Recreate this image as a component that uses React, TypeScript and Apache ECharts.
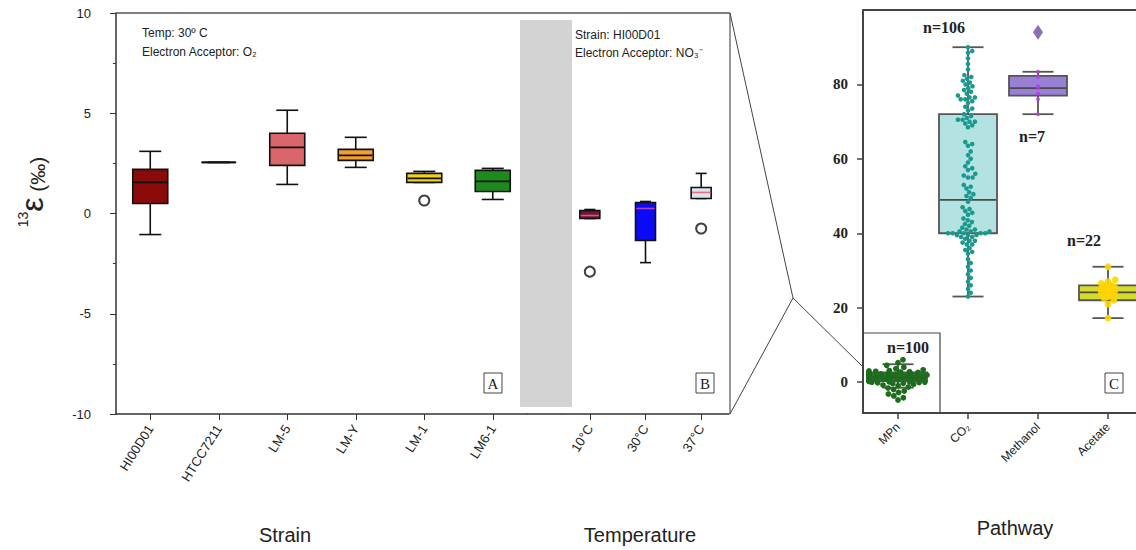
import React, { useEffect, useRef } from 'react';
import * as echarts from 'echarts';

// ---------- Panel A: strains ----------
const strainCats = ['HI00D01', 'HTCC7211', 'LM-5', 'LM-Y', 'LM-1', 'LM6-1'];
const strainLow = [-1.05, 2.55, 1.45, 2.3, 1.55, 0.7];
const strainQ1 = [0.5, 2.55, 2.4, 2.65, 1.55, 1.1];
const strainMed = [1.55, 2.55, 3.3, 2.9, 1.75, 1.6];
const strainQ3 = [2.2, 2.55, 4.0, 3.2, 2.0, 2.15];
const strainHigh = [3.1, 2.55, 5.15, 3.8, 2.1, 2.25];
const strainFill = ['#8B0A0A', '#8B0A0A', '#D9666B', '#F4A030', '#F2D21B', '#1E8A1E'];
const strainMedColor = ['#111', '#111', '#111', '#111', '#111', '#111'];
const strainOutliers = [[4, 0.65]];

// ---------- Panel B: temperature ----------
const tempCats = ['10°C', '30°C', '37°C'];
const tempLow = [-0.25, -2.45, 0.75];
const tempQ1 = [-0.25, -1.35, 0.75];
const tempMed = [-0.1, 0.25, 1.05];
const tempQ3 = [0.15, 0.55, 1.3];
const tempHigh = [0.2, 0.6, 2.0];
const tempFill = ['#6B1538', '#0A0AF5', '#DCE4EE'];
const tempMedColor = ['#E0508A', '#B040C0', '#E87080'];
const tempOutliers = [[0, -2.9], [2, -0.75]];

// ---------- Panel C: pathway ----------
const pathCats = ['MPn', 'CO₂', 'Methanol', 'Acetate'];
const pathLow = [-1.5, 23, 72, 17.2];
const pathQ1 = [0.3, 40, 77, 22];
const pathMed = [1.3, 49, 79, 24.1];
const pathQ3 = [2.6, 72, 82.3, 26];
const pathHigh = [4.8, 90, 83.4, 31];
const pathFill = ['#1F7A1F', '#B2E2E2', '#9A7FD6', '#D6DA2A'];
const pathMedColor = ['#4a4a4a', '#4a4a4a', '#4a4a4a', '#4a4a4a'];
const pathN = ['n=100', 'n=106', 'n=7', 'n=22'];

const mpnPoints = [
  6.0, 5.2, 4.5, 4.0, 3.6, 3.3, 3.1, 3.0, 2.9, 2.8,
  2.7, 2.6, 2.6, 2.5, 2.5, 2.4, 2.4, 2.3, 2.3, 2.2,
  2.2, 2.2, 2.1, 2.1, 2.0, 2.0, 2.0, 1.9, 1.9, 1.9,
  1.8, 1.8, 1.8, 1.7, 1.7, 1.7, 1.6, 1.6, 1.6, 1.5,
  1.5, 1.5, 1.5, 1.4, 1.4, 1.4, 1.3, 1.3, 1.3, 1.3,
  1.2, 1.2, 1.2, 1.1, 1.1, 1.1, 1.0, 1.0, 1.0, 1.0,
  0.9, 0.9, 0.9, 0.8, 0.8, 0.8, 0.7, 0.7, 0.7, 0.6,
  0.6, 0.5, 0.5, 0.5, 0.4, 0.4, 0.3, 0.3, 0.2, 0.2,
  0.1, 0.1, 0.0, 0.0, -0.1, -0.2, -0.3, -0.4, -0.6, -0.8,
  -1.0, -1.3, -1.6, -2.0, -2.4, -2.8, -3.2, -3.7, -4.2, -4.8,
];
const co2Points = [
  90, 89, 88.5, 87, 85.5, 84, 82.5, 82, 81.5, 81,
  80.5, 80, 79.5, 79, 78.5, 78, 77.5, 77, 76.5, 76.5,
  76, 76, 75.5, 75, 74, 73.5, 73, 72, 71.5, 71,
  70.5, 70.5, 70, 70, 69.5, 69, 68.5, 64.5, 64, 63.5,
  62, 61, 60, 59, 58, 57.5, 57, 56, 55.5, 55,
  55, 53, 52.5, 52, 51, 50.5, 50, 49.5, 48.5, 47,
  46.5, 46, 45.5, 45, 44, 43.5, 43, 42.5, 42, 41.5,
  41, 41, 40.5, 40.5, 40.5, 40, 40, 40, 40, 40,
  39.5, 39.5, 39.5, 39, 39, 38.5, 38, 38, 37.5, 37,
  37, 36, 35.5, 35, 34.5, 33, 32, 31, 30, 29,
  28, 27, 26, 25, 24, 23,
];
const methanolPoints = [83.4, 82, 79.5, 79, 77.5, 76, 72];
const methanolOutliers = [94];
const acetatePoints = [31, 27.5, 27, 26.5, 26, 26, 25.5, 25.5, 25, 25, 24.5, 24.5, 24, 24, 23.5, 23.5, 23, 23, 22.5, 22, 21, 17.2];

const SANS = 'Liberation Sans, Arial, sans-serif';
const SERIF = 'Liberation Serif, Times New Roman, serif';

function beeswarm(ys: number[], r: number, maxW: number): number[] {
  const d = 2 * r;
  const order = ys.map((_, i) => i).sort((a, b) => ys[b] - ys[a]);
  const placed: { x: number; y: number }[] = [];
  const off = new Array(ys.length).fill(0);
  let fb = 0;
  for (const i of order) {
    const y = ys[i];
    const near = placed.filter((p) => Math.abs(p.y - y) < d);
    const cands = [0];
    for (const p of near) {
      const dx = Math.sqrt(Math.max(0, d * d - (p.y - y) * (p.y - y)));
      cands.push(p.x + dx + 0.01, p.x - dx - 0.01);
    }
    cands.sort((a, b) => Math.abs(a) - Math.abs(b));
    let chosen: number | null = null;
    for (const c of cands) {
      if (Math.abs(c) > maxW) continue;
      if (near.every((p) => (p.x - c) * (p.x - c) + (p.y - y) * (p.y - y) >= d * d - 0.05)) {
        chosen = c;
        break;
      }
    }
    if (chosen === null) {
      fb++;
      const steps = Math.max(1, Math.floor(maxW / r));
      const k = ((fb * 7) % (2 * steps + 1)) - steps;
      chosen = k * r;
    }
    off[i] = chosen;
    placed.push({ x: chosen, y });
  }
  return off;
}

function boxRender(fills: string[], meds: string[], stroke: string, boxW: number, capW: number, lw: number) {
  return (params: any, api: any) => {
    const x = api.value(0);
    const lo = api.coord([x, api.value(1)]);
    const q1 = api.coord([x, api.value(2)]);
    const md = api.coord([x, api.value(3)]);
    const q3 = api.coord([x, api.value(4)]);
    const hi = api.coord([x, api.value(5)]);
    const cx = lo[0];
    const i = params.dataIndex;
    const ls = { stroke, lineWidth: lw };
    return {
      type: 'group',
      children: [
        { type: 'line', shape: { x1: cx, y1: hi[1], x2: cx, y2: q3[1] }, style: ls },
        { type: 'line', shape: { x1: cx, y1: q1[1], x2: cx, y2: lo[1] }, style: ls },
        { type: 'line', shape: { x1: cx - capW / 2, y1: hi[1], x2: cx + capW / 2, y2: hi[1] }, style: ls },
        { type: 'line', shape: { x1: cx - capW / 2, y1: lo[1], x2: cx + capW / 2, y2: lo[1] }, style: ls },
        {
          type: 'rect',
          shape: { x: cx - boxW / 2, y: q3[1], width: boxW, height: q1[1] - q3[1] },
          style: { fill: fills[i], stroke, lineWidth: lw },
        },
        {
          type: 'line',
          shape: { x1: cx - boxW / 2 + lw / 2, y1: md[1], x2: cx + boxW / 2 - lw / 2, y2: md[1] },
          style: { stroke: meds[i], lineWidth: lw },
        },
      ],
    };
  };
}

function swarmRender(values: number[], cat: number, r: number, maxW: number, color: string, opacity = 1) {
  return (params: any, api: any) => {
    const ctx = params.context;
    if (!ctx.off) {
      const ys = values.map((v) => api.coord([cat, v])[1]);
      ctx.off = beeswarm(ys, r, maxW);
    }
    const c = api.coord([api.value(0), api.value(1)]);
    return {
      type: 'circle',
      shape: { cx: c[0] + ctx.off[params.dataIndex], cy: c[1], r },
      style: { fill: color, opacity },
    };
  };
}

function boxData(lo: number[], q1: number[], md: number[], q3: number[], hi: number[]) {
  return lo.map((_, i) => [i, lo[i], q1[i], md[i], q3[i], hi[i]]);
}

function txt(text: string, x: number, y: number, font: string, align = 'left', fill = '#222', extra: any = {}) {
  return { type: 'text', x, y, z: 10, style: { text, font, fill, align, verticalAlign: 'middle', ...extra } };
}

function line(x1: number, y1: number, x2: number, y2: number, stroke = '#444', lineWidth = 1) {
  return { type: 'line', z: 10, shape: { x1, y1, x2, y2 }, style: { stroke, lineWidth } };
}

function boxedLetter(t: string, cx: number, cy: number) {
  return [
    { type: 'rect', z: 10, shape: { x: cx - 9, y: cy - 10, width: 18, height: 20 }, style: { fill: '#fff', stroke: '#444', lineWidth: 1 } },
    txt(t, cx, cy + 1, `15px ${SERIF}`, 'center', '#222'),
  ];
}

const leftAxisLine = { show: true, onZero: false, lineStyle: { color: '#333', width: 1.5 } };

export default function App() {
  const ref = useRef<HTMLDivElement>(null);
  useEffect(() => {
    document.body.style.margin = '0';
    const chart = echarts.init(ref.current!, null, { renderer: 'svg' });
    const option: any = {
      animation: false,
      backgroundColor: '#fff',
      grid: [
        { left: 116, top: 13, width: 411, height: 401, outerBoundsMode: 'none' },
        { left: 562, top: 13, width: 167, height: 401, outerBoundsMode: 'none' },
        { left: 863, top: 10, width: 280, height: 403, outerBoundsMode: 'none' },
      ],
      xAxis: [
        {
          type: 'category', gridIndex: 0, data: strainCats,
          axisLine: leftAxisLine,
          axisTick: { show: true, alignWithLabel: true, length: 6, lineStyle: { color: '#333' } },
          axisLabel: { rotate: 58, fontSize: 13, fontFamily: SANS, color: '#222', margin: 12, interval: 0 },
          splitLine: { show: false },
        },
        {
          type: 'category', gridIndex: 1, data: tempCats,
          axisLine: leftAxisLine,
          axisTick: { show: true, alignWithLabel: true, length: 6, lineStyle: { color: '#333' } },
          axisLabel: { rotate: 58, fontSize: 13, fontFamily: SANS, color: '#222', margin: 12, interval: 0 },
          splitLine: { show: false },
        },
        {
          type: 'category', gridIndex: 2, data: pathCats,
          axisLine: { show: true, onZero: false, lineStyle: { color: '#444', width: 2 } },
          axisTick: { show: true, alignWithLabel: true, length: 6, lineStyle: { color: '#444', width: 1.5 } },
          axisLabel: { rotate: 45, fontSize: 12, fontFamily: SANS, color: '#222', margin: 12, interval: 0 },
          splitLine: { show: false },
        },
      ],
      yAxis: [
        {
          type: 'value', gridIndex: 0, min: -10, max: 10, interval: 5,
          axisLine: leftAxisLine,
          axisTick: { show: true, length: 6, lineStyle: { color: '#333' } },
          minorTick: { show: true, splitNumber: 2, length: 3, lineStyle: { color: '#333' } },
          axisLabel: { fontSize: 13, fontFamily: SANS, color: '#222', margin: 25 },
          splitLine: { show: false },
          minorSplitLine: { show: false },
        },
        {
          type: 'value', gridIndex: 1, min: -10, max: 10, interval: 5, show: false,
          splitLine: { show: false },
        },
        {
          type: 'value', gridIndex: 2, min: -8.3, max: 100,
          axisLine: { show: true, onZero: false, lineStyle: { color: '#444', width: 2 } },
          axisTick: { show: true, length: 6, customValues: [0, 20, 40, 60, 80], lineStyle: { color: '#444', width: 1.5 } },
          axisLabel: {
            fontSize: 15, fontFamily: SERIF, fontWeight: 'bold', color: '#222', margin: 15,
            customValues: [0, 20, 40, 60, 80],
          },
          splitLine: { show: false },
        },
      ],
      series: [
        {
          type: 'custom', xAxisIndex: 0, yAxisIndex: 0, z: 3,
          data: boxData(strainLow, strainQ1, strainMed, strainQ3, strainHigh),
          encode: { x: 0, y: [1, 2, 3, 4, 5] },
          renderItem: boxRender(strainFill, strainMedColor, '#111', 35, 22, 1.6),
        },
        {
          type: 'scatter', xAxisIndex: 0, yAxisIndex: 0, z: 4,
          data: strainOutliers, symbol: 'circle', symbolSize: 10,
          itemStyle: { color: '#fff', borderColor: '#111', borderWidth: 2 },
        },
        {
          type: 'custom', xAxisIndex: 1, yAxisIndex: 1, z: 3,
          data: boxData(tempLow, tempQ1, tempMed, tempQ3, tempHigh),
          encode: { x: 0, y: [1, 2, 3, 4, 5] },
          renderItem: boxRender(tempFill, tempMedColor, '#111', 20, 11, 1.6),
        },
        {
          type: 'scatter', xAxisIndex: 1, yAxisIndex: 1, z: 4,
          data: tempOutliers, symbol: 'circle', symbolSize: 10,
          itemStyle: { color: '#fff', borderColor: '#111', borderWidth: 2 },
        },
        {
          type: 'custom', xAxisIndex: 2, yAxisIndex: 2, z: 3,
          data: boxData(pathLow, pathQ1, pathMed, pathQ3, pathHigh),
          encode: { x: 0, y: [1, 2, 3, 4, 5] },
          renderItem: boxRender(pathFill, pathMedColor, '#555', 58, 31, 1.8),
        },
        {
          type: 'custom', xAxisIndex: 2, yAxisIndex: 2, z: 5,
          data: mpnPoints.map((v) => [0, v]),
          encode: { x: 0, y: 1 },
          renderItem: swarmRender(mpnPoints, 0, 2.9, 29, '#1C6E1C'),
        },
        {
          type: 'custom', xAxisIndex: 2, yAxisIndex: 2, z: 5,
          data: co2Points.map((v) => [1, v]),
          encode: { x: 0, y: 1 },
          renderItem: swarmRender(co2Points, 1, 2.3, 28, '#1A998C'),
        },
        {
          type: 'custom', xAxisIndex: 2, yAxisIndex: 2, z: 5,
          data: methanolPoints.map((v) => [2, v]),
          encode: { x: 0, y: 1 },
          renderItem: swarmRender(methanolPoints, 2, 2, 0, '#B43CE6', 0.8),
        },
        {
          type: 'scatter', xAxisIndex: 2, yAxisIndex: 2, z: 5,
          data: methanolOutliers.map((v) => [2, v]), symbol: 'diamond', symbolSize: [10, 15],
          itemStyle: { color: '#6E4B9E' },
        },
        {
          type: 'custom', xAxisIndex: 2, yAxisIndex: 2, z: 5,
          data: acetatePoints.map((v) => [3, v]),
          encode: { x: 0, y: 1 },
          renderItem: swarmRender(acetatePoints, 3, 3.4, 8, '#FFD400', 0.9),
        },
      ],
      graphic: [
        { type: 'rect', z: -1, shape: { x: 520, y: 20, width: 52, height: 387 }, style: { fill: '#D3D3D3' } },
        // frames
        line(116, 13, 730, 13, '#555', 1.5),
        line(527, 414, 562, 414, '#333', 1.5),
        line(730, 13, 730, 414, '#555', 1.2),
        line(863, 10, 1136, 10, '#444', 2),
        // zoom connectors
        line(730, 13, 793, 298, '#444', 1),
        line(793, 298, 730, 414, '#444', 1),
        line(793, 298, 863, 367, '#444', 1),
        // MPn inset box
        { type: 'rect', z: 1, shape: { x: 863, y: 333, width: 77, height: 80 }, style: { fill: 'none', stroke: '#444', lineWidth: 1.2 } },
        // annotations
        txt('Temp: 30º C', 142, 33, `12px ${SANS}`),
        txt('Electron Acceptor: O₂', 142, 52, `12px ${SANS}`),
        txt('Strain: HI00D01', 575, 35, `12px ${SANS}`),
        txt('Electron Acceptor: NO₃⁻', 575, 53, `12px ${SANS}`),
        ...boxedLetter('A', 493, 383),
        ...boxedLetter('B', 705, 383),
        ...boxedLetter('C', 1114, 383),
        txt(pathN[1], 944, 27, `bold 16px ${SERIF}`, 'center'),
        txt(pathN[2], 1032, 136, `bold 16px ${SERIF}`, 'center'),
        txt(pathN[3], 1084, 240, `bold 16px ${SERIF}`, 'center'),
        txt(pathN[0], 908, 347, `bold 16px ${SERIF}`, 'center'),
        // axis titles
        txt('Strain', 285, 535, `20px ${SANS}`, 'center'),
        txt('Temperature', 640, 535, `20px ${SANS}`, 'center'),
        txt('Pathway', 1015, 528, `20px ${SANS}`, 'center'),
        {
          type: 'text', x: 32, y: 192, rotation: Math.PI / 2, z: 10,
          style: {
            text: '{s|13}{e|ε}{p| (‰)}',
            align: 'center', verticalAlign: 'middle', fill: '#222',
            rich: {
              s: { fontSize: 14, fontFamily: SANS, verticalAlign: 'top', fill: '#222' },
              e: { fontSize: 32, fontFamily: SANS, verticalAlign: 'bottom', fill: '#222' },
              p: { fontSize: 21, fontFamily: SANS, verticalAlign: 'bottom', fill: '#222' },
            },
          },
        },
      ],
    };
    chart.setOption(option);
    return () => chart.dispose();
  }, []);
  return <div ref={ref} style={{ position: 'absolute', left: 0, top: 0, width: 1136, height: 550, background: '#fff' }} />;
}
